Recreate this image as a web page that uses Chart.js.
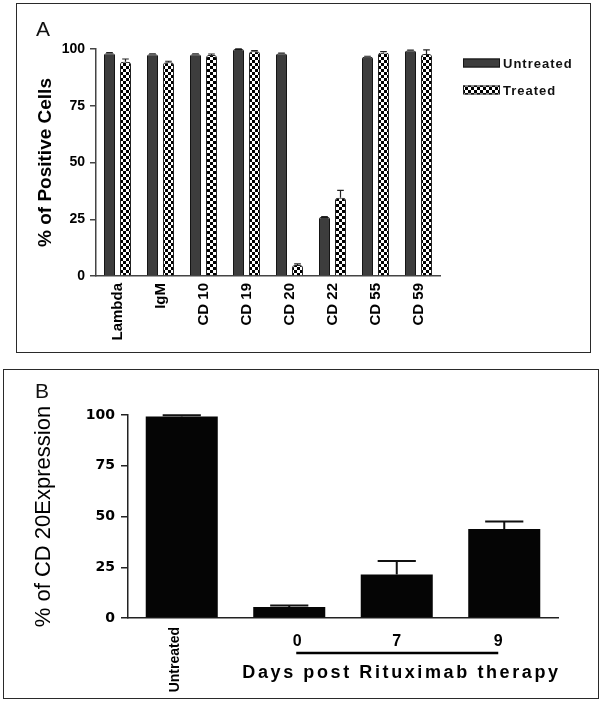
<!DOCTYPE html>
<html><head><meta charset="utf-8">
<script src="https://cdn.jsdelivr.net/npm/chart.js@4/dist/chart.umd.min.js"></script>
<style>
html,body{margin:0;padding:0;background:#fff;}
body{width:600px;height:710px;position:relative;overflow:hidden;font-family:"Liberation Sans",Arial,sans-serif;}
.frame{position:absolute;border:1.5px solid #2a2a2a;box-sizing:border-box;pointer-events:none;}
#fa{left:16px;top:3px;width:575px;height:350px;}
#fb{left:3px;top:369px;width:596px;height:330px;}
.plabel{position:absolute;font-size:21px;line-height:1;color:#111;font-family:"Liberation Sans",Arial,sans-serif;}
#ca{position:absolute;left:0;top:0;}
#cb{position:absolute;left:0;top:360px;}
</style>
</head>
<body>
<canvas id="ca" width="600" height="360"></canvas>
<canvas id="cb" width="600" height="350"></canvas>
<div class="frame" id="fa"></div>
<div class="frame" id="fb"></div>
<div class="plabel" style="left:36px;top:18px;">A</div>
<div class="plabel" style="left:35px;top:380px;">B</div>
<script>
// ---- Panel A data ----
const markersA = ['Lambda', 'IgM', 'CD 10', 'CD 19', 'CD 20', 'CD 22', 'CD 55', 'CD 59'];
const seriesNamesA = ['Untreated', 'Treated'];
const untreatedA = [98.1, 97.7, 97.7, 100, 98.0, 26.0, 96.6, 99.3];
const treatedA = [94.4, 94.2, 97.4, 99.0, 4.8, 34.5, 98.5, 97.8];
const untreatedErrA = [0.3, 0.2, 0.2, 0.1, 0.2, 0.2, 0.2, 0.2];
const treatedErrA = [1.2, 0.4, 0.4, 0.3, 0.5, 3.2, 0.4, 1.8];
const ticksA = [0, 25, 50, 75, 100];
const yTitleA = '% of Positive Cells';

// ---- Panel B data ----
const groupsB = ['Untreated', '0', '7', '9'];
const cd20B = [99.2, 5.4, 21.4, 43.8];
const cd20ErrB = [0.7, 0.8, 6.7, 3.7];
const ticksB = [0, 25, 50, 75, 100];
const yTitleB = '% of CD 20Expression';
const xTitleB = 'Days post Rituximab therapy';

const FONT = '"Liberation Sans", Arial, sans-serif';
Chart.defaults.font.family = FONT;
Chart.defaults.color = '#000';

// checker pattern
function makeChecker() {
  const c = document.createElement('canvas');
  c.width = 6; c.height = 6;
  const g = c.getContext('2d');
  g.fillStyle = '#fff'; g.fillRect(0, 0, 6, 6);
  g.fillStyle = '#000'; g.fillRect(0, 0, 3, 3); g.fillRect(3, 3, 3, 3);
  return document.getElementById('ca').getContext('2d').createPattern(c, 'repeat');
}
const checker = makeChecker();

const errorBarPlugin = {
  id: 'errorBars',
  afterDatasetsDraw(chart, args, o) {
    const ctx = chart.ctx, y = chart.scales.y;
    chart.data.datasets.forEach((ds, di) => {
      if (!ds.errors) return;
      const meta = chart.getDatasetMeta(di);
      meta.data.forEach((bar, i) => {
        const v = ds.data[i], e = ds.errors[i];
        const yTop = y.getPixelForValue(v + e), yBar = y.getPixelForValue(v);
        const cw = bar.width * o.capRatio;
        ctx.save();
        ctx.strokeStyle = o.color; ctx.lineWidth = o.width;
        ctx.beginPath();
        ctx.moveTo(bar.x, yBar); ctx.lineTo(bar.x, yTop);
        ctx.moveTo(bar.x - cw / 2, yTop); ctx.lineTo(bar.x + cw / 2, yTop);
        ctx.stroke();
        ctx.restore();
      });
    });
  }
};

const sideLegend = {
  id: 'sideLegend',
  afterDraw(chart, args, o) {
    if (!o || !o.show) return;
    const ctx = chart.ctx;
    chart.data.datasets.forEach((ds, i) => {
      const yc = o.y + i * o.gap;
      ctx.save();
      ctx.fillStyle = ds.backgroundColor;
      ctx.fillRect(o.x, yc - o.h / 2, o.w, o.h);
      ctx.strokeStyle = ds.borderColor; ctx.lineWidth = 1;
      ctx.strokeRect(o.x + 0.5, yc - o.h / 2 + 0.5, o.w - 1, o.h - 1);
      ctx.letterSpacing = o.spacing;
      ctx.font = o.font; ctx.fillStyle = '#111';
      ctx.textBaseline = 'middle'; ctx.textAlign = 'left';
      ctx.fillText(ds.label, o.x + o.w + 3, yc + 1);
      ctx.restore();
    });
  }
};

const xLabelsB = {
  id: 'xLabelsB',
  afterDraw(chart, args, o) {
    if (!o || !o.show) return;
    const ctx = chart.ctx, x = chart.scales.x, bottom = chart.chartArea.bottom;
    ctx.save();
    ctx.fillStyle = '#000'; ctx.strokeStyle = '#000';
    chart.data.labels.forEach((lab, i) => {
      const px = x.getPixelForValue(i);
      if (i === 0) {
        ctx.save();
        ctx.translate(px + o.rotDx, bottom + o.rotGap);
        ctx.rotate(-Math.PI / 2);
        ctx.textAlign = 'right'; ctx.textBaseline = 'middle';
        ctx.font = o.rotFont;
        ctx.fillText(lab, 0, 0);
        ctx.restore();
      } else {
        ctx.font = o.numFont; ctx.textAlign = 'center'; ctx.textBaseline = 'alphabetic';
        ctx.fillText(lab, px + (o.numDx[i] || 0), bottom + o.numBaseline);
      }
    });
    const x1 = x.getPixelForValue(1), x3 = x.getPixelForValue(chart.data.labels.length - 1);
    ctx.lineWidth = 2.5;
    ctx.beginPath();
    ctx.moveTo(x1 + o.lineInsetL, bottom + o.lineY);
    ctx.lineTo(x3 - o.lineInsetR, bottom + o.lineY);
    ctx.stroke();
    ctx.font = o.titleFont; ctx.letterSpacing = o.titleSpacing;
    ctx.textAlign = 'right'; ctx.textBaseline = 'alphabetic';
    ctx.fillText(o.title, x.right + parseFloat(o.titleSpacing), bottom + o.titleBaseline);
    ctx.restore();
  }
};

// ---- Chart A ----
new Chart(document.getElementById('ca'), {
  type: 'bar',
  data: {
    labels: markersA,
    datasets: [
      { label: seriesNamesA[0], data: untreatedA, errors: untreatedErrA,
        backgroundColor: '#3d3d3d', borderColor: '#151515', borderWidth: 1,
        borderRadius: { topLeft: 2, topRight: 2 }, borderSkipped: 'bottom' },
      { label: seriesNamesA[1], data: treatedA, errors: treatedErrA,
        backgroundColor: checker, borderColor: '#222', borderWidth: 1,
        borderRadius: { topLeft: 3, topRight: 3 }, borderSkipped: 'bottom' }
    ]
  },
  options: {
    responsive: false, animation: false, devicePixelRatio: 1,
    layout: { padding: { left: 0, top: 49, right: 160, bottom: 0 } },
    datasets: { bar: { categoryPercentage: 0.744, barPercentage: 0.69 } },
    plugins: {
      legend: { display: false }, tooltip: { enabled: false },
      errorBars: { capRatio: 0.6, color: '#222', width: 1.2 },
      sideLegend: { show: true, x: 463, y: 63, gap: 27, w: 37, h: 9, font: 'bold 13px ' + FONT, spacing: '1px' }
    },
    scales: {
      x: {
        grid: { display: true, drawOnChartArea: false, drawTicks: false },
        border: { color: '#444', width: 1.5 },
        ticks: { minRotation: 90, maxRotation: 90, autoSkip: false, padding: 7, color: '#000', font: { size: 15, weight: 'bold' } },
        afterFit: s => { s.height = 84; }
      },
      y: {
        min: 0, max: 100,
        afterBuildTicks: s => { s.ticks = ticksA.map(v => ({ value: v })); },
        grid: { drawOnChartArea: false, tickLength: 6, color: '#444', lineWidth: 1.5 },
        border: { color: '#444', width: 1.5 },
        ticks: { padding: 5, color: '#000', font: { size: 14, weight: 'bold' } },
        title: { display: true, text: yTitleA, color: '#000', font: { size: 19, weight: 'bold' }, padding: { top: 34, bottom: 0 } },
        afterFit: s => { s.width = 96; }
      }
    }
  },
  plugins: [errorBarPlugin, sideLegend]
});

// ---- Chart B ----
new Chart(document.getElementById('cb'), {
  type: 'bar',
  data: {
    labels: groupsB,
    datasets: [
      { label: yTitleB, data: cd20B, errors: cd20ErrB, backgroundColor: '#050505', borderWidth: 0 }
    ]
  },
  options: {
    responsive: false, animation: false, devicePixelRatio: 1,
    layout: { padding: { left: 0, top: 55, right: 42, bottom: 0 } },
    datasets: { bar: { categoryPercentage: 1, barPercentage: 0.67 } },
    plugins: {
      legend: { display: false }, tooltip: { enabled: false },
      errorBars: { capRatio: 0.53, color: '#111', width: 2 },
      xLabelsB: {
        show: true, rotDx: -7, rotGap: 9, rotFont: 'bold 14px ' + FONT,
        numFont: 'bold 16px ' + FONT, numBaseline: 28, numDx: [0, 8, 0, -6],
        lineY: 35, lineInsetL: 7, lineInsetR: 6,
        title: xTitleB, titleFont: 'bold 18px ' + FONT, titleSpacing: '2.6px', titleBaseline: 60
      }
    },
    scales: {
      x: {
        ticks: { display: false },
        grid: { display: true, drawOnChartArea: false, drawTicks: false },
        border: { color: '#222', width: 1.5 },
        afterFit: s => { s.height = 92; }
      },
      y: {
        min: 0, max: 100,
        afterBuildTicks: s => { s.ticks = ticksB.map(v => ({ value: v })); },
        grid: { drawOnChartArea: false, tickLength: 7, color: '#222', lineWidth: 1.5 },
        border: { color: '#222', width: 1.5 },
        ticks: { padding: 6, color: '#000', font: { family: '"DejaVu Sans", sans-serif', size: 14, weight: 'bold' } },
        title: { display: true, text: yTitleB, color: '#000', font: { size: 22, weight: 'normal' }, padding: { top: 31, bottom: 0 } },
        afterFit: s => { s.width = 128; }
      }
    }
  },
  plugins: [errorBarPlugin, xLabelsB]
});
</script>
</body></html>
